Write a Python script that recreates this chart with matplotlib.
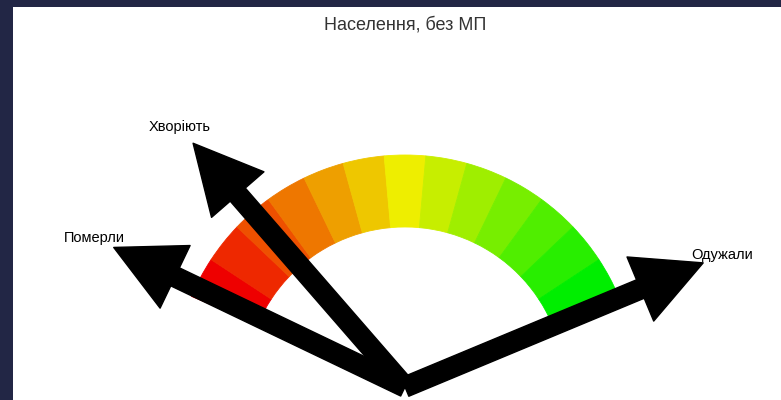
import numpy as np
import matplotlib
matplotlib.use("Agg")
import matplotlib.pyplot as plt
from matplotlib.patches import Rectangle

plt.rcParams["font.family"] = ["Liberation Sans", "DejaVu Sans"]

# gauge band: 13 colour steps red -> yellow -> green
band_colors = ["#ee0000", "#ee2800", "#ee5000", "#ee7700", "#ee9f00", "#eec700",
               "#eeee00", "#c7ee00", "#9fee00", "#77ee00", "#50ee00", "#28ee00",
               "#00ee00"]
band_start_deg = 157
band_end_deg = 23

# needles (angle in degrees, 0 = right, 90 = up)
labels = ["Померли", "Хворіють", "Одужали"]
needle_deg = [154.4, 131.0, 22.6]

title = "Населення, без МП"

W, H = 781, 400
fig = plt.figure(figsize=(W / 100, H / 100), dpi=100)
fig.patch.set_facecolor("#222645")
fig.add_artist(Rectangle((13 / W, 0), 1, 1 - 7 / H, transform=fig.transFigure,
                         facecolor="white", edgecolor="none", zorder=-1))

# polar axes, 1 data unit = 1 pixel, centre at (405, 387) from top-left
R = 360
cx, cy = 405, H - 387
ax = fig.add_axes([(cx - R) / W, (cy - R) / H, 2 * R / W, 2 * R / H],
                  projection="polar")
ax.set_ylim(0, R)
ax.axis("off")

r_in, r_out = 160, 232
edges = np.linspace(band_start_deg, band_end_deg, len(band_colors) + 1)
mids = np.radians((edges[:-1] + edges[1:]) / 2)
step = np.radians(abs(edges[1] - edges[0]))
ax.bar(mids, r_out - r_in, width=step, bottom=r_in, color=band_colors,
       edgecolor=band_colors, linewidth=0.6, align="center", zorder=1)

# arrows
arrow_len = 323
for lab, d in zip(labels, needle_deg):
    t = np.radians(d)
    ax.annotate("", xy=(t, arrow_len), xytext=(t, 0),
                arrowprops=dict(arrowstyle="simple,head_length=49,head_width=50,tail_width=14.4",
                                mutation_scale=1, color="black", shrinkA=0, shrinkB=0),
                zorder=3)
    ax.text(t, 344, lab, ha="center", va="center", fontsize=10.5, color="black", zorder=4)

fig.text(cx / W, 1 - 30 / H, title, ha="center", va="baseline", fontsize=13, color="#333333")

fig.savefig("out.png", dpi=100, facecolor=fig.get_facecolor())
